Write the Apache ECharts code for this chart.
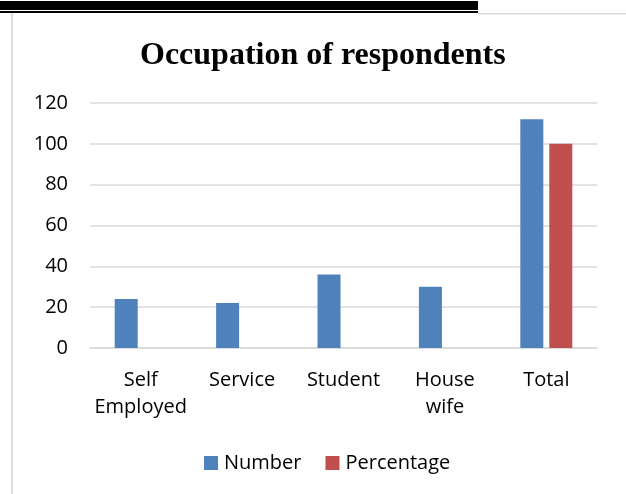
<!DOCTYPE html>
<html><head><meta charset="utf-8">
<script src="https://cdn.jsdelivr.net/npm/echarts@6/dist/echarts.min.js"></script>
<style>html,body{margin:0;padding:0;background:#fff}#c{width:626px;height:494px}</style>
</head><body><div id="c"></div>
<script>
var categories = ["Self\nEmployed", "Service", "Student", "House\nwife", "Total"];
var numberValues = [24, 22, 36, 30, 112];
var percentageValues = [null, null, null, null, 100];
var seriesNames = ["Number", "Percentage"];
var titleText = "Occupation of respondents";

var chart = echarts.init(document.getElementById('c'));
var font = "'Open Sans', 'Liberation Sans', sans-serif";
chart.setOption({
  animation: false,
  backgroundColor: '#fff',
  title: {
    text: titleText, left: 135, top: 35,
    textStyle: {fontFamily: "'Liberation Serif', 'Times New Roman', serif", fontWeight: 'bold', fontSize: 32, color: '#000'}
  },
  legend: {
    data: seriesNames, top: 448, left: 199, itemWidth: 14, itemHeight: 14, itemGap: 24,
    icon: 'rect',
    textStyle: {fontFamily: font, fontSize: 20, color: '#000', padding: [0, 0, 0, 1]}
  },
  grid: {left: 90, right: 29, top: 103, bottom: 146, containLabel: false},
  xAxis: {
    type: 'category', data: categories,
    axisLine: {show: true, lineStyle: {color: '#d9d9d9', width: 1.5}},
    axisTick: {show: false},
    axisLabel: {fontFamily: font, fontSize: 20, color: '#000', margin: 19, lineHeight: 27, interval: 0}
  },
  yAxis: {
    type: 'value', min: 0, max: 120, interval: 20,
    axisLine: {show: false}, axisTick: {show: false},
    splitLine: {lineStyle: {color: '#d9d9d9', width: 1.5}},
    axisLabel: {fontFamily: font, fontSize: 20, color: '#000', margin: 22}
  },
  series: [
    {name: seriesNames[0], type: 'bar', data: numberValues, barWidth: 23, barGap: '26%', itemStyle: {color: '#4F81BD'}},
    {name: seriesNames[1], type: 'bar', data: percentageValues, barWidth: 23, itemStyle: {color: '#C0504D'}}
  ],
  graphic: [
    {type: 'rect', shape: {x: 0, y: 1, width: 478, height: 9}, style: {fill: '#000'}, silent: true},
    {type: 'rect', shape: {x: 0, y: 11, width: 478, height: 2}, style: {fill: '#000'}, silent: true},
    {type: 'rect', shape: {x: 478, y: 13, width: 148, height: 1.5}, style: {fill: '#d9d9d9'}, silent: true},
    {type: 'rect', shape: {x: 11, y: 13, width: 2, height: 481}, style: {fill: '#dcdcdc'}, silent: true}
  ]
});
</script></body></html>
